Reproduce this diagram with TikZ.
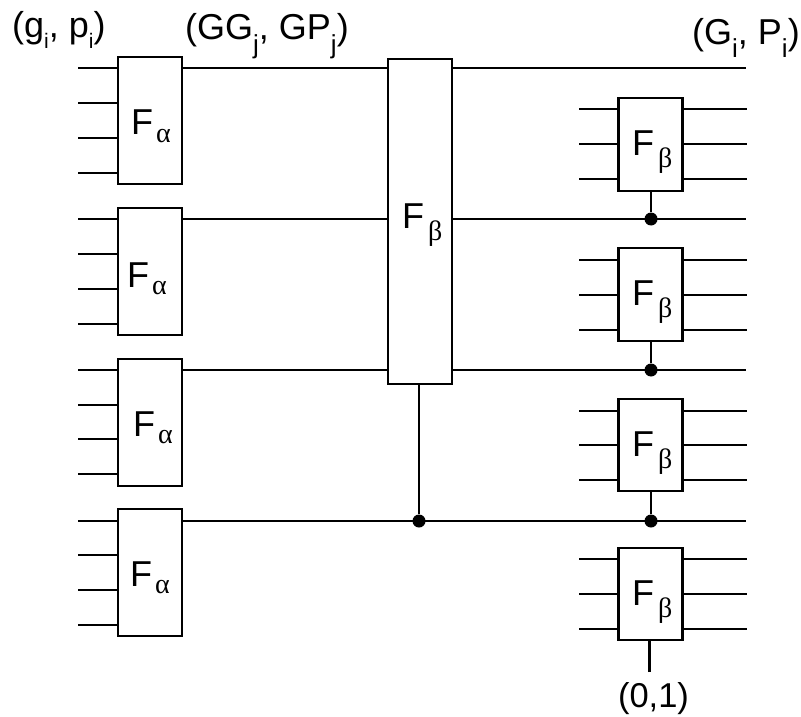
\documentclass[tikz,border=0pt]{standalone}
\usepackage{fontspec}
\setmainfont{Liberation Sans}
\newfontfamily\greekserif{Liberation Serif}
\newcommand{\sbx}[3]{\raisebox{-#2pt}{\fontsize{#1}{#1}\selectfont #3}}
\newcommand{\flbla}{F\kern 3pt\raisebox{-7pt}{\fontsize{28}{28}\selectfont\greekserif α}}
\newcommand{\flblb}{F\kern 4pt\raisebox{-12pt}{\fontsize{28}{28}\selectfont\greekserif β}}
\tikzset{
  wire/.style={line width=2.2pt},
  blockbox/.style={draw,line width=2.4pt,fill=white,inner sep=0pt,minimum width=64pt},
  tall/.style={blockbox,minimum height=127pt},
  short/.style={blockbox,minimum height=92.5pt},
  dotnode/.style={circle,fill=black,inner sep=0pt,minimum size=13pt},
  flabel/.style={anchor=base west,inner sep=0pt,font=\fontsize{36}{36}\selectfont},
  toplabel/.style={anchor=base west,inner sep=0pt,font=\fontsize{36}{36}\selectfont}
}
\begin{document}
\begin{tikzpicture}[x=1pt,y=-1pt]
\useasboundingbox (0,0) rectangle (801,717);
\foreach \n/\yA/\yB/\yC/\yD/\yc in {1/68/103/138/173/120.5,2/219/254/289/324/271.5,3/370/405/439/474/422.2,4/521/555/590/625/572.5}{
  \node[tall] (A\n) at (150,\yc) {};
  \foreach \yy in {\yA,\yB,\yC,\yD}{
    \coordinate (s) at (78,\yy);
    \draw[wire] (s) -- (s -| A\n.west);
  }
}
\node[blockbox,minimum height=325pt] (B) at (420,221.5) {};
\foreach \n/\yA/\yB/\yC/\yc in {1/109/144/179/144.5,2/260/295/330/294.5,3/411/445/480/445,4/559/594/629/594}{
  \node[short] (C\n) at (650.5,\yc) {};
  \foreach \yy in {\yA,\yB,\yC}{
    \coordinate (l) at (579,\yy);
    \coordinate (r) at (747,\yy);
    \draw[wire] (l) -- (l -| C\n.west);
    \draw[wire] (C\n.east |- r) -- (r);
  }
}
\foreach \n/\yy in {1/68,2/219,3/370,4/521}{
  \coordinate (e\n) at (746,\yy);
}
\draw[wire] (A1.east |- e1) -- (B.west |- e1);
\draw[wire] (A2.east |- e2) -- (B.west |- e2);
\draw[wire] (A3.east |- e3) -- (B.west |- e3);
\draw[wire] (B.east |- e1) -- (e1);
\draw[wire] (B.east |- e2) -- (e2);
\draw[wire] (B.east |- e3) -- (e3);
\draw[wire] (A4.east |- e4) -- (e4);
\node[dotnode] (D0) at (419,521) {};
\node[dotnode] (D1) at (651,219) {};
\node[dotnode] (D2) at (651,370) {};
\node[dotnode] (D3) at (651,521) {};
\draw[wire] (D0) -- (D0 |- B.south);
\draw[wire] (D1) -- (D1 |- C1.south);
\draw[wire] (D2) -- (D2 |- C2.south);
\draw[wire] (D3) -- (D3 |- C3.south);
\node[toplabel,anchor=base,font=\fontsize{34.5}{34.5}\selectfont] (zo) at (653.5,707) {(0,1)};
\coordinate (zt) at (649.5,672);
\draw[wire] (zt) -- (zt |- C4.south);
\node[flabel] (la1) at (131,135) {\flbla};
\node[flabel] (la2) at (127,287) {\flbla};
\node[flabel] (la3) at (133,436) {\flbla};
\node[flabel] (la4) at (130,586) {\flbla};
\node[flabel] (lb) at (402,228) {\flblb};
\node[flabel] (lc1) at (632,155) {\flblb};
\node[flabel] (lc2) at (632,305) {\flblb};
\node[flabel] (lc3) at (632,456) {\flblb};
\node[flabel] (lc4) at (632,605) {\flblb};
\node[toplabel] (t1) at (12,38) {(g\sbx{21}{10}{i}, p\sbx{21}{10}{i})};
\node[toplabel] (t2) at (185,40) {(GG\sbx{26}{14}{j}, GP\sbx{26}{14}{j})};
\node[toplabel] (t3) at (692,45) {(G\sbx{26}{13}{i}, P\sbx{26}{13}{i})};
\end{tikzpicture}
\end{document}
